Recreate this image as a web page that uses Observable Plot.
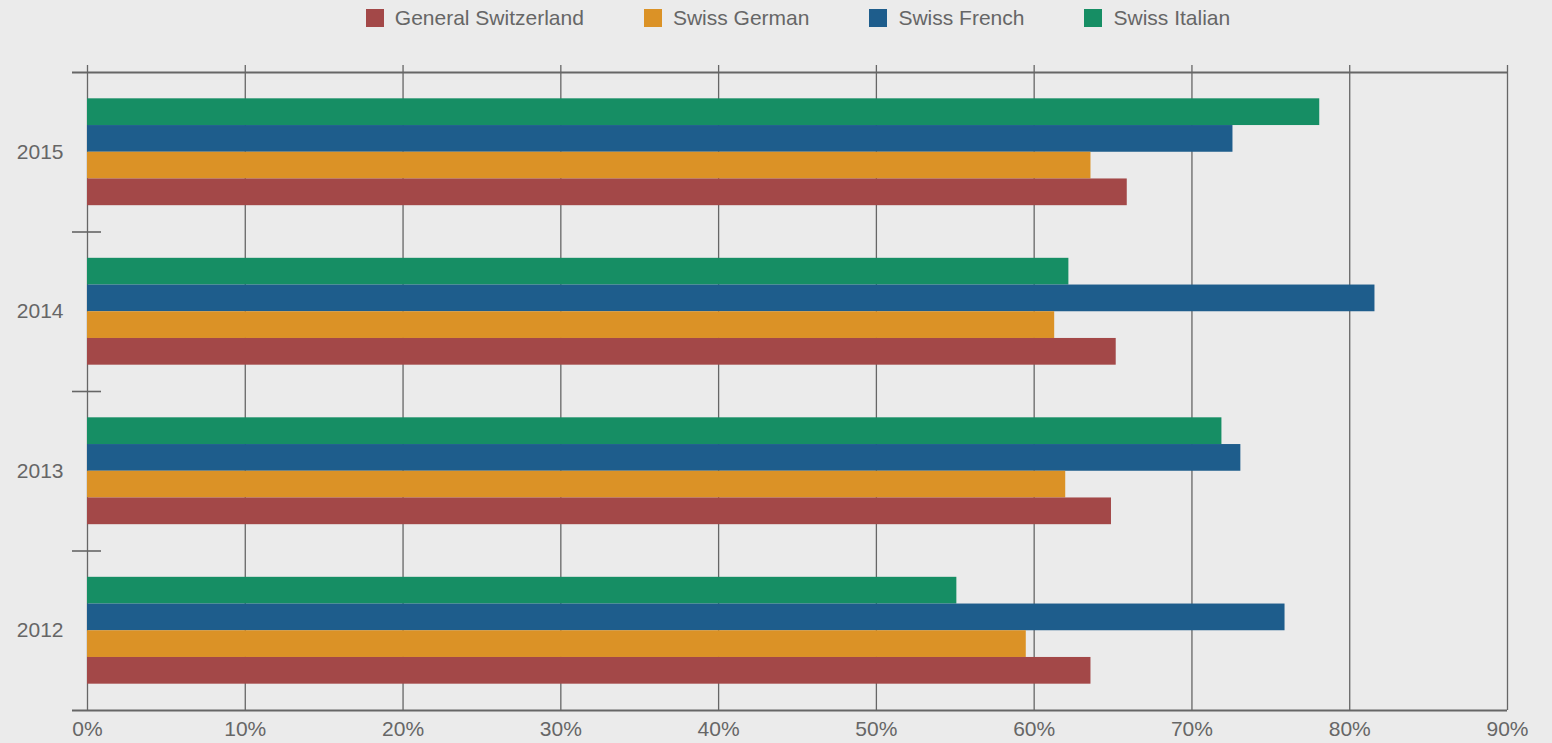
<!DOCTYPE html>
<html>
<head>
<meta charset="utf-8">
<script src="https://cdn.jsdelivr.net/npm/d3@7"></script>
<script src="https://cdn.jsdelivr.net/npm/@observablehq/plot@0.6"></script>
<style>
html, body { margin: 0; padding: 0; background: #ebebeb; }
body { width: 1552px; height: 743px; overflow: hidden; font-family: "Liberation Sans", Arial, Helvetica, sans-serif; }
#legend { width: 1552px; height: 36px; box-sizing: border-box; padding-left: 44px; display: flex; align-items: center; justify-content: center; }
.item { display: flex; align-items: center; margin: 0 30px; color: #666; font-size: 21px; white-space: nowrap; }
.sw { width: 18px; height: 18px; margin-right: 11px; }
#chart svg { display: block; }
</style>
</head>
<body>
<div id="legend"></div>
<div id="chart"></div>
<script>
// ---- data ----
const years = ["2015", "2014", "2013", "2012"];
const series = ["General Switzerland", "Swiss German", "Swiss French", "Swiss Italian"];
const generalSwitzerland = [0.659, 0.652, 0.649, 0.636];
const swissGerman = [0.636, 0.613, 0.620, 0.595];
const swissFrench = [0.726, 0.816, 0.731, 0.759];
const swissItalian = [0.781, 0.622, 0.719, 0.551];
const colors = ["#a34848", "#db9226", "#1e5d8c", "#168e64"];
const xTicks = [0, 0.1, 0.2, 0.3, 0.4, 0.5, 0.6, 0.7, 0.8, 0.9];

const values = [generalSwitzerland, swissGerman, swissFrench, swissItalian];
const rows = years.flatMap((y, i) => series.map((s, j) => ({year: y, series: s, value: values[j][i]})));

// ---- legend ----
const legend = document.getElementById("legend");
series.forEach((s, j) => {
  const it = document.createElement("div");
  it.className = "item";
  const sw = document.createElement("span");
  sw.className = "sw";
  sw.style.background = colors[j];
  it.appendChild(sw);
  it.appendChild(document.createTextNode(s));
  legend.appendChild(it);
});

// ---- layout ----
const width = 1552, height = 707;
const marginTop = 36, marginBottom = 33, marginLeft = 87, marginRight = 45;
const pInner = 0.33, pOuter = pInner / 2;
const plotH = height - marginTop - marginBottom;
const plotW = width - marginLeft - marginRight;
const step = plotH / years.length;
const bw = step * (1 - pInner);
const q = bw / series.length;
const lineColor = "#666666";

// top-to-bottom order within each group: Italian, French, German, General
const order = [3, 2, 1, 0];
const barMarks = order.map((j, k) =>
  Plot.barX(rows.filter(d => d.series === series[j]), {
    x: "value", y: "year", fill: colors[j],
    insetTop: k * q, insetBottom: (series.length - 1 - k) * q
  })
);

const chart = Plot.plot({
  width, height, marginTop, marginBottom, marginLeft, marginRight,
  style: {background: "transparent", fontSize: "21px", fontFamily: "'Liberation Sans', Arial, Helvetica, sans-serif", color: "#666"},
  x: {domain: [0, 0.9], label: null},
  y: {domain: years, paddingInner: pInner, paddingOuter: pOuter, round: false, label: null},
  marks: [
    Plot.ruleX(xTicks, {stroke: lineColor, strokeWidth: 1.3, insetTop: -7}),
    Plot.ruleY([years[0]], {y: d => d, dy: -step / 2, stroke: lineColor, strokeWidth: 2, insetLeft: -15}),
    Plot.ruleY([years[years.length - 1]], {y: d => d, dy: step / 2, stroke: lineColor, strokeWidth: 2, insetLeft: -15}),
    Plot.ruleY(years.slice(1), {y: d => d, dy: -step / 2, stroke: lineColor, strokeWidth: 1.6, insetLeft: -15, insetRight: plotW - 14}),
    ...barMarks,
    Plot.axisX(xTicks, {anchor: "bottom", tickSize: 0, tickPadding: 11, tickFormat: d3.format(".0%"), fontSize: 21, fill: "#666", label: null}),
    Plot.axisY({anchor: "left", tickSize: 0, tickPadding: 24, fontSize: 21, fill: "#666", label: null})
  ]
});
document.getElementById("chart").appendChild(chart);
</script>
</body>
</html>
